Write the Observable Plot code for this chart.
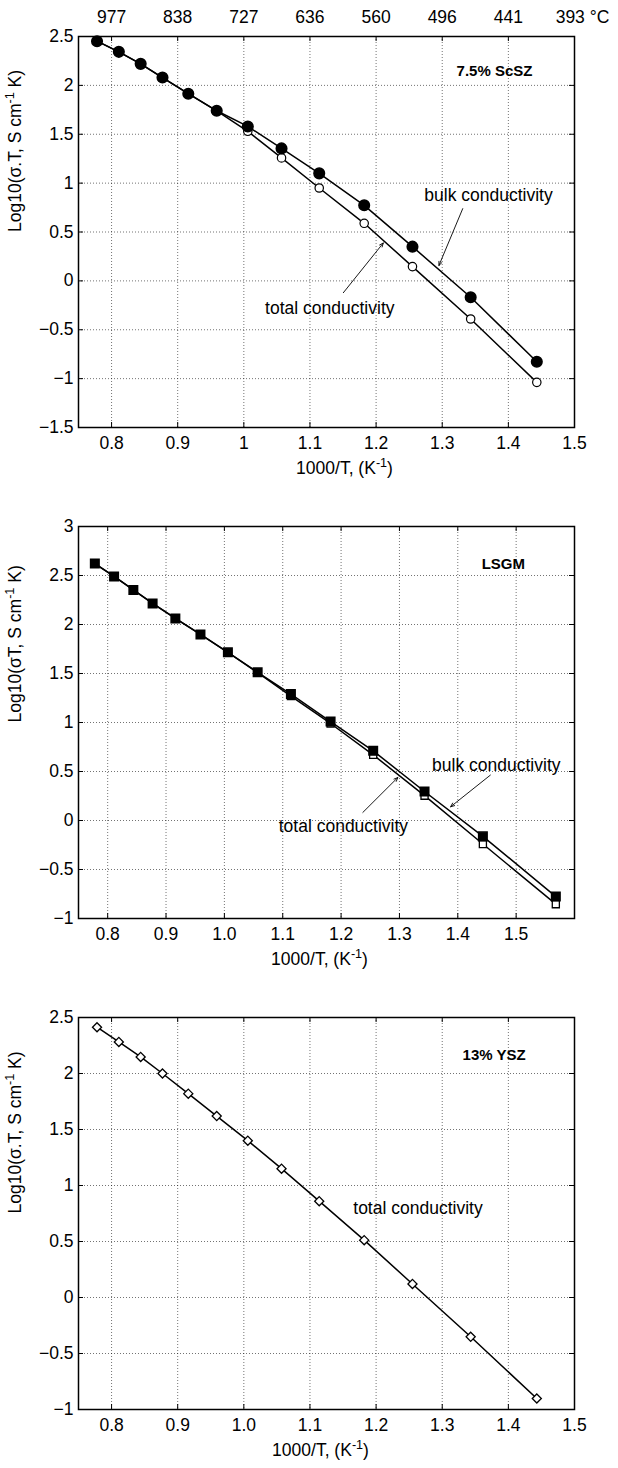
<!DOCTYPE html>
<html><head><meta charset="utf-8">
<script src="https://cdn.jsdelivr.net/npm/d3@7"></script>
<script src="https://cdn.jsdelivr.net/npm/@observablehq/plot@0.6"></script>
<style>
body{margin:0;background:#fff;}
#c{width:618px;}
#c svg{display:block;}
</style></head><body><div id="c"></div>
<script>
// ---------- data ----------
const invT      = [0.778, 0.811, 0.844, 0.877, 0.916, 0.959, 1.006, 1.057, 1.114, 1.182, 1.255, 1.343, 1.443];
const invTLSGM  = [0.778, 0.811, 0.844, 0.877, 0.916, 0.959, 1.006, 1.057, 1.114, 1.182, 1.255, 1.343, 1.443, 1.568];
const scszBulk  = [2.452, 2.343, 2.220, 2.080, 1.915, 1.740, 1.580, 1.355, 1.100, 0.773, 0.350, -0.168, -0.827];
const scszTotal = [2.452, 2.343, 2.220, 2.080, 1.915, 1.740, 1.530, 1.258, 0.950, 0.589, 0.146, -0.390, -1.038];
const lsgmBulk  = [2.622, 2.490, 2.353, 2.215, 2.062, 1.899, 1.716, 1.512, 1.290, 1.010, 0.711, 0.296, -0.162, -0.776];
const lsgmTotal = [2.622, 2.490, 2.353, 2.215, 2.062, 1.899, 1.716, 1.508, 1.270, 0.990, 0.670, 0.253, -0.240, -0.854];
const yszTotal  = [2.413, 2.282, 2.148, 2.000, 1.820, 1.620, 1.400, 1.150, 0.860, 0.512, 0.121, -0.351, -0.902];

const xTicks      = [0.8, 0.9, 1.0, 1.1, 1.2, 1.3, 1.4, 1.5];
const topTicks    = [0.8, 0.9, 1.0, 1.1, 1.2, 1.3, 1.4, 1.5];
const topLabels   = ["977", "838", "727", "636", "560", "496", "441", "393 °C"];
const yTicksScSZ  = [-1.5, -1, -0.5, 0, 0.5, 1, 1.5, 2, 2.5];
const yTicksLSGM  = [-1, -0.5, 0, 0.5, 1, 1.5, 2, 2.5, 3];
const yTicksYSZ   = [-1, -0.5, 0, 0.5, 1, 1.5, 2, 2.5];

const materials   = ["7.5% ScSZ", "LSGM", "13% YSZ"];
const seriesNames = ["bulk conductivity", "total conductivity"];
const xLabel      = "1000/T, (K^-1)";
const yLabels     = ["Log10(σ.T, S cm^-1 K)", "Log10(σT, S cm^-1 K)", "Log10(σ.T, S cm^-1 K)"];

// ---------- helpers ----------
const FONT = "'Liberation Sans', Arial, Helvetica, sans-serif";
const FS = 17.5;
const W = 618, ML = 78, MR = 44;
const fmtG = d => (d < 0 ? "\u2212" : "") + String(Math.abs(d));
const fmt1 = d => d.toFixed(1);

function tableOf(xs, cols) {
  return xs.map((x, i) => { const o = {x}; for (const k in cols) o[k] = cols[k][i]; return o; });
}

function supify(svg) {
  d3.select(svg).selectAll("text").each(function () {
    const t = this.textContent;
    if (!t.includes("^")) return;
    const parts = t.split(/\^(-1)/);
    const sel = d3.select(this);
    sel.text(null);
    parts.forEach((p, i) => {
      if (i % 2 === 1) sel.append("tspan").attr("dy", -7).attr("font-size", FS * 0.72).text(p);
      else if (p.length) sel.append("tspan").attr("dy", i === 0 ? 0 : 7).text(p);
    });
  });
  return svg;
}

function panel(o) {
  const fh = o.height - o.mt - o.mb, fw = W - ML - MR;
  const grid = {stroke: "#000", strokeOpacity: 0.55, strokeDasharray: "1,2", strokeWidth: 1};
  const marks = [
    Plot.gridX(o.xTicks, grid),
    Plot.gridY(o.yTicks, grid),
    Plot.tickX(o.xTicks, {x: d => d, insetTop: fh - 5, stroke: "#000"}),
    Plot.tickX(o.xTicks, {x: d => d, insetBottom: fh - 5, stroke: "#000"}),
    Plot.tickY(o.yTicks, {y: d => d, insetRight: fw - 5, stroke: "#000"}),
    Plot.tickY(o.yTicks, {y: d => d, insetLeft: fw - 5, stroke: "#000"}),
    ...o.marks,
    Plot.frame({stroke: "#000", strokeWidth: 1.5}),
    Plot.axisX({ticks: o.xTicks, tickFormat: o.xFmt, tickSize: 0, tickPadding: 9, label: null, fontSize: FS}),
    Plot.axisY({ticks: o.yTicks, tickFormat: fmtG, tickSize: 0, tickPadding: 5, label: null, fontSize: FS}),
    Plot.text([o.xlabel], {frameAnchor: "bottom", dy: 41, dx: o.xlabelDx, lineAnchor: "middle", fontSize: FS}),
    Plot.text([o.ylabel], {frameAnchor: "left", dx: -(ML - 15), rotate: -90, lineAnchor: "middle", fontSize: FS}),
    Plot.text([o.title], {x: o.titleAt[0], y: o.titleAt[1], fontSize: 15, fontWeight: "bold", lineAnchor: "middle"})
  ];
  if (o.top) marks.push(...o.top);
  const svg = Plot.plot({
    width: W, height: o.height,
    marginLeft: ML, marginRight: MR, marginTop: o.mt, marginBottom: o.mb,
    x: {domain: o.xDomain},
    y: {domain: o.yDomain},
    style: {fontFamily: FONT, fontSize: FS + "px", background: "#fff", color: "#000", overflow: "visible"},
    marks
  });
  return supify(svg);
}

const lineOpt = {stroke: "#000", strokeWidth: 1.5};
const arrowOpt = {stroke: "#000", strokeWidth: 0.9, headLength: 7, headAngle: 45};
const labelOpt = {fontSize: FS, lineAnchor: "middle"};

// ---------- panel 1: ScSZ ----------
const scsz = tableOf(invT, {bulk: scszBulk, total: scszTotal});
const p1 = panel({
  height: 490, mt: 36, mb: 63,
  xDomain: [0.75, 1.5], yDomain: [-1.5, 2.5],
  xTicks, yTicks: yTicksScSZ, xFmt: fmtG,
  xlabel: xLabel, xlabelDx: 18, ylabel: yLabels[0],
  title: materials[0], titleAt: [1.379, 2.147],
  marks: [
    Plot.line(scsz, {x: "x", y: "total", ...lineOpt}),
    Plot.line(scsz, {x: "x", y: "bulk", ...lineOpt}),
    Plot.dot(scsz, {x: "x", y: "total", r: 4.2, fill: "#fff", stroke: "#000", strokeWidth: 1.2}),
    Plot.dot(scsz, {x: "x", y: "bulk", r: 5.3, fill: "#000", stroke: "#000"}),
    Plot.text([seriesNames[0]], {x: 1.370, y: 0.874, ...labelOpt}),
    Plot.text([seriesNames[1]], {x: 1.130, y: -0.28, ...labelOpt}),
    Plot.arrow([{x1: 1.331, y1: 0.739, x2: 1.295, y2: 0.157}], {x1: "x1", y1: "y1", x2: "x2", y2: "y2", ...arrowOpt}),
    Plot.arrow([{x1: 1.1505, y1: -0.121, x2: 1.2109, y2: 0.388}], {x1: "x1", y1: "y1", x2: "x2", y2: "y2", ...arrowOpt})
  ],
  top: [
    Plot.text(d3.range(7), {x: i => topTicks[i], text: i => topLabels[i], frameAnchor: "top", dy: -19, lineAnchor: "middle", fontSize: FS}),
    Plot.text([7], {x: i => topTicks[i], text: i => topLabels[i], frameAnchor: "top", dy: -19, dx: 8, lineAnchor: "middle", fontSize: FS})
  ]
});

// ---------- panel 2: LSGM ----------
const lsgm = tableOf(invTLSGM, {bulk: lsgmBulk, total: lsgmTotal});
const p2 = panel({
  height: 490, mt: 36, mb: 62,
  xDomain: [0.75, 1.6], yDomain: [-1, 3],
  xTicks, yTicks: yTicksLSGM, xFmt: fmt1,
  xlabel: xLabel, xlabelDx: -7, ylabel: yLabels[1],
  title: materials[1], titleAt: [1.478, 2.62],
  marks: [
    Plot.line(lsgm, {x: "x", y: "total", ...lineOpt}),
    Plot.line(lsgm, {x: "x", y: "bulk", ...lineOpt}),
    Plot.dot(lsgm, {x: "x", y: "total", r: 4.0, symbol: "square", fill: "#fff", stroke: "#000", strokeWidth: 1.3}),
    Plot.dot(lsgm, {x: "x", y: "bulk", r: 4.8, symbol: "square", fill: "#000", stroke: "#000"}),
    Plot.text([seriesNames[0]], {x: 1.466, y: 0.558, ...labelOpt}),
    Plot.text([seriesNames[1]], {x: 1.204, y: -0.06, ...labelOpt}),
    Plot.arrow([{x1: 1.4558, y1: 0.463, x2: 1.3877, y2: 0.140}], {x1: "x1", y1: "y1", x2: "x2", y2: "y2", ...arrowOpt}),
    Plot.arrow([{x1: 1.2373, y1: 0.0825, x2: 1.2973, y2: 0.439}], {x1: "x1", y1: "y1", x2: "x2", y2: "y2", ...arrowOpt})
  ]
});

// ---------- panel 3: YSZ ----------
const ysz = tableOf(invT, {total: yszTotal});
const p3 = panel({
  height: 488, mt: 37, mb: 59,
  xDomain: [0.75, 1.5], yDomain: [-1, 2.5],
  xTicks, yTicks: yTicksYSZ, xFmt: fmt1,
  xlabel: xLabel, xlabelDx: -6, ylabel: yLabels[2],
  title: materials[2], titleAt: [1.3785, 2.163],
  marks: [
    Plot.line(ysz, {x: "x", y: "total", ...lineOpt}),
    Plot.dot(ysz, {x: "x", y: "total", r: 4.1, symbol: "diamond2", fill: "#fff", stroke: "#000", strokeWidth: 1.3}),
    Plot.text([seriesNames[1]], {x: 1.2633, y: 0.795, ...labelOpt})
  ]
});

const c = document.getElementById("c");
c.append(p1, p2, p3);
</script>
</body></html>
